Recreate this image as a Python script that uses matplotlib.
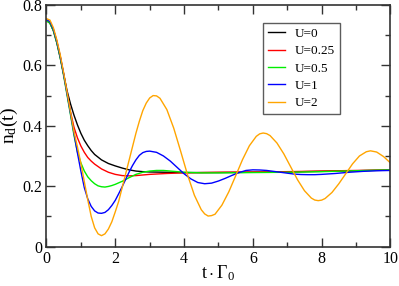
import matplotlib
matplotlib.use("Agg")
import matplotlib.pyplot as plt

plt.rcParams['font.family'] = ['Liberation Serif', 'DejaVu Serif']
plt.rcParams['mathtext.fontset'] = 'custom'
plt.rcParams['mathtext.rm'] = 'Liberation Serif'
plt.rcParams['mathtext.it'] = 'Liberation Serif'

# values
t_fine = [0.0, 0.1, 0.2, 0.3, 0.4, 0.5, 0.6, 0.7, 0.8, 0.9, 1.0, 1.1, 1.2, 1.3,
          1.4, 1.5, 1.6, 1.7, 1.8, 1.9, 2.0, 2.1, 2.2, 2.3, 2.4, 2.5, 2.6, 2.7,
          2.8, 2.9, 3.0, 3.1]

t_u0 = t_fine[:15] + [1.6, 1.8, 2.0, 2.2, 2.4, 2.6, 2.8, 3.0, 3.5, 4, 5, 6, 7, 8, 9, 10]
n_u0 = [0.748, 0.74, 0.715, 0.675, 0.625, 0.57, 0.515, 0.472, 0.435, 0.403, 0.375,
        0.352, 0.334, 0.318, 0.305, 0.287, 0.275, 0.267, 0.26, 0.254, 0.25, 0.248,
        0.247, 0.246, 0.245, 0.245, 0.246, 0.247, 0.249, 0.251, 0.253]

t_u025 = t_fine[:15] + [1.6, 1.8, 2.0, 2.2, 2.4, 2.6, 2.8, 3.0, 3.5, 4, 5, 6, 7, 8, 9, 10]
n_u025 = [0.75, 0.742, 0.718, 0.68, 0.63, 0.572, 0.508, 0.445, 0.395, 0.36, 0.333,
          0.312, 0.295, 0.283, 0.273, 0.257, 0.246, 0.239, 0.235, 0.234, 0.235,
          0.237, 0.239, 0.242, 0.244, 0.246, 0.247, 0.248, 0.25, 0.252, 0.254]

t_u05 = t_fine[:21] + [2.2, 2.4, 2.6, 2.8, 3.0, 3.2, 3.4, 3.6, 3.8, 4.0, 4.5, 5, 6, 7, 8, 9, 10]
n_u05 = [0.748, 0.74, 0.715, 0.675, 0.625, 0.565, 0.5, 0.435, 0.368, 0.313, 0.277,
         0.25, 0.231, 0.218, 0.208, 0.201, 0.198, 0.197, 0.199, 0.202, 0.206,
         0.216, 0.228, 0.239, 0.246, 0.25, 0.252, 0.252, 0.25, 0.248, 0.246,
         0.244, 0.244, 0.245, 0.246, 0.248, 0.251, 0.254]

t_u1 = t_fine + [3.2, 3.4, 3.6, 3.8, 4.0, 4.2, 4.4, 4.6, 4.8, 5.0, 5.2, 5.4, 5.6,
                 5.8, 6.0, 6.2, 6.4, 6.6, 6.8, 7.0, 7.2, 7.4, 7.6, 7.8, 8.0, 8.4,
                 8.8, 9.2, 9.6, 10.0]
n_u1 = [0.752, 0.745, 0.72, 0.68, 0.63, 0.57, 0.505, 0.44, 0.375, 0.31, 0.25,
        0.195, 0.158, 0.133, 0.118, 0.111, 0.11, 0.113, 0.122, 0.136, 0.153,
        0.175, 0.198, 0.222, 0.246, 0.268, 0.287, 0.302, 0.311, 0.315, 0.316,
        0.314, 0.312, 0.3, 0.283, 0.262, 0.241, 0.224, 0.212, 0.208, 0.21,
        0.217, 0.226, 0.236, 0.245, 0.252, 0.254, 0.2535, 0.252, 0.249, 0.246,
        0.243, 0.24, 0.2385, 0.238, 0.238, 0.239, 0.242, 0.246, 0.249, 0.251,
        0.252]

t_u2 = t_fine + [3.2, 3.3, 3.5, 3.7, 3.9, 4.1, 4.3, 4.5, 4.6, 4.7, 4.8, 4.9, 5.1,
                 5.3, 5.5, 5.7, 5.9, 6.1, 6.2, 6.3, 6.4, 6.5, 6.7, 6.9, 7.1, 7.3,
                 7.5, 7.7, 7.8, 7.9, 8.0, 8.1, 8.3, 8.5, 8.7, 8.9, 9.1, 9.3, 9.42,
                 9.6, 9.8, 10.0]
n_u2 = [0.755, 0.75, 0.725, 0.685, 0.635, 0.575, 0.51, 0.445, 0.38, 0.33, 0.275,
        0.215, 0.155, 0.1, 0.062, 0.042, 0.036, 0.042, 0.058, 0.082, 0.115, 0.15,
        0.195, 0.24, 0.285, 0.33, 0.375, 0.415, 0.45, 0.475, 0.492, 0.5, 0.499,
        0.491, 0.4535, 0.392, 0.316, 0.238, 0.17, 0.122, 0.108, 0.101, 0.1024,
        0.107, 0.137, 0.181, 0.234, 0.288, 0.334, 0.365, 0.3733, 0.376, 0.3739,
        0.3675, 0.343, 0.307, 0.264, 0.221, 0.185, 0.1605, 0.154, 0.152, 0.1537,
        0.159, 0.179, 0.208, 0.241, 0.274, 0.3, 0.314, 0.317, 0.313, 0.298, 0.277]

labels = ['U=0', 'U=0.25', 'U=0.5', 'U=1', 'U=2']
colors = ['black', 'red', '#00ee00', 'blue', 'orange']

fig = plt.figure(figsize=(3.99, 2.86), dpi=100)
ax = fig.add_axes([0.1165, 0.138, 0.862, 0.8445])

series = [(t_u0, n_u0), (t_u025, n_u025), (t_u05, n_u05), (t_u1, n_u1), (t_u2, n_u2)]
for (t, n), lab, col in zip(series, labels, colors):
    ax.plot(t, n, color=col, lw=1.0, label=lab)

ax.set_xlim(0, 10)
ax.set_ylim(0, 0.8)
ax.set_xticks([0, 2, 4, 6, 8, 10])
ax.set_xticks([1, 3, 5, 7, 9], minor=True)
ax.set_yticks([0, 0.2, 0.4, 0.6, 0.8])
ax.set_yticks([0.1, 0.3, 0.5, 0.7], minor=True)
ax.set_xticklabels(['0', '2', '4', '6', '8', '10'])
ax.set_yticklabels(['0', '0.2', '0.4', '0.6', '0.8'])
ax.tick_params(which='both', direction='in', top=True, right=True, labelsize=11.5,
               color='#333333', width=1.0)
ax.tick_params(which='major', length=6.5, pad=3)
ax.tick_params(which='minor', length=3.6)
for s in ax.spines.values():
    s.set_linewidth(1.2)
    s.set_color('#333333')

ax.set_xlabel(r'$\mathrm{t \cdot \Gamma_0}$', fontsize=13)
ax.xaxis.set_label_coords(0.5, -0.068)
ax.set_ylabel(r'$\mathrm{n_d(t)}$', fontsize=14, labelpad=2)

leg = ax.legend(loc='upper left', bbox_to_anchor=(0.63, 0.927), fontsize=9.5,
                frameon=True, fancybox=False, handlelength=1.26, handletextpad=0.76,
                labelspacing=0.39, borderpad=0.38, borderaxespad=0)
leg.get_frame().set_edgecolor('#333333')
leg.get_frame().set_linewidth(1.0)

fig.savefig('out.png', dpi=100)
